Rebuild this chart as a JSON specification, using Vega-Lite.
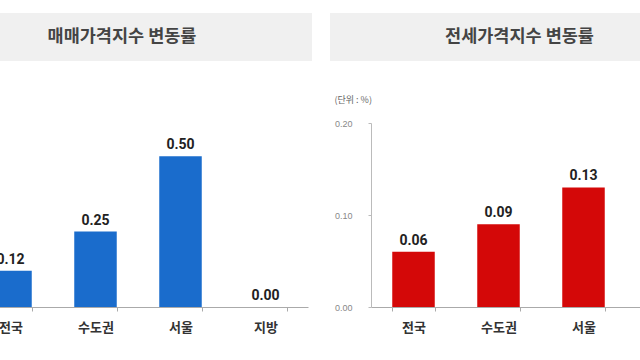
{
  "$schema": "https://vega.github.io/schema/vega-lite/v6.json",
  "background": "white",
  "padding": {"left": -32, "top": 13, "right": 0, "bottom": 0},
  "spacing": 35,
  "datasets": {
    "sale": [
      {"region": "전국", "value": 0.12},
      {"region": "수도권", "value": 0.25},
      {"region": "서울", "value": 0.50},
      {"region": "지방", "value": 0.00}
    ],
    "jeonse": [
      {"region": "전국", "value": 0.06},
      {"region": "수도권", "value": 0.09},
      {"region": "서울", "value": 0.13}
    ],
    "headers": [
      {"panel": "sale", "t": "매매가격지수 변동률"},
      {"panel": "jeonse", "t": "전세가격지수 변동률"}
    ]
  },
  "config": {
    "view": {"stroke": null},
    "font": "Noto Sans CJK KR"
  },
  "vconcat": [
    {
      "spacing": 18,
      "hconcat": [
        {
          "width": 344,
          "height": 48,
          "view": {"fill": "#f0f0f0", "stroke": null},
          "data": {"name": "headers"},
          "transform": [{"filter": "datum.panel === 'sale'"}],
          "mark": {"type": "text", "font": "Noto Sans CJK KR", "fontSize": 17.5, "fontWeight": "bold", "color": "#444444", "align": "center", "baseline": "middle", "dx": -18},
          "encoding": {"text": {"field": "t", "type": "nominal"}}
        },
        {
          "width": 385,
          "height": 48,
          "view": {"fill": "#f0f0f0", "stroke": null},
          "data": {"name": "headers"},
          "transform": [{"filter": "datum.panel === 'jeonse'"}],
          "mark": {"type": "text", "font": "Noto Sans CJK KR", "fontSize": 17.5, "fontWeight": "bold", "color": "#444444", "align": "center", "baseline": "middle", "dx": -3},
          "encoding": {"text": {"field": "t", "type": "nominal"}}
        }
      ]
    },
    {
      "spacing": 26,
      "hconcat": [
        {
          "width": 340,
          "height": 184,
          "data": {"name": "sale"},
          "encoding": {
            "x": {
              "field": "region", "type": "nominal",
              "sort": ["전국", "수도권", "서울", "지방"],
              "scale": {"domain": ["전국", "수도권", "서울", "지방"], "paddingInner": 0.5, "paddingOuter": 0.25},
              "axis": {"title": null, "labelAngle": 0, "tickBand": "extent", "domainColor": "#aaaaaa", "tickColor": "#aaaaaa", "tickSize": 4, "labelFont": "Noto Sans CJK KR", "labelFontSize": 13, "labelFontWeight": "bold", "labelColor": "#333333", "labelPadding": 10}
            },
            "y": {
              "field": "value", "type": "quantitative",
              "scale": {"domain": [0, 0.61], "nice": false},
              "axis": null
            }
          },
          "layer": [
            {"mark": {"type": "bar", "color": "#1a6ccc"}},
            {"mark": {"type": "text", "baseline": "alphabetic", "dy": -7, "font": "Roboto", "fontSize": 14, "fontWeight": "bold", "color": "#222222"},
             "encoding": {"text": {"field": "value", "type": "quantitative", "format": ".2f"}}}
          ]
        },
        {
          "width": 340,
          "height": 184,
          "title": {"text": "(단위 : %)", "anchor": "start", "frame": "bounds", "fontSize": 9, "fontWeight": "normal", "color": "#666666", "offset": 14, "font": "Noto Sans CJK KR"},
          "data": {"name": "jeonse"},
          "encoding": {
            "x": {
              "field": "region", "type": "nominal",
              "sort": ["전국", "수도권", "서울", "지방"],
              "scale": {"domain": ["전국", "수도권", "서울", "지방"], "paddingInner": 0.5, "paddingOuter": 0.25},
              "axis": {"title": null, "labelAngle": 0, "tickBand": "extent", "domainColor": "#aaaaaa", "tickColor": "#aaaaaa", "tickSize": 4, "labelFont": "Noto Sans CJK KR", "labelFontSize": 13, "labelFontWeight": "bold", "labelColor": "#333333", "labelPadding": 10}
            },
            "y": {
              "field": "value", "type": "quantitative",
              "scale": {"domain": [0, 0.2]},
              "axis": {"title": null, "values": [0, 0.1, 0.2], "format": ".2f", "grid": false, "domainColor": "#bbbbbb", "tickColor": "#bbbbbb", "tickSize": 3, "labelColor": "#888888", "labelFont": "Liberation Sans", "labelFontSize": 9, "labelPadding": 16}
            }
          },
          "layer": [
            {"mark": {"type": "bar", "color": "#d40808"}},
            {"mark": {"type": "text", "baseline": "alphabetic", "dy": -7, "font": "Roboto", "fontSize": 14, "fontWeight": "bold", "color": "#222222"},
             "encoding": {"text": {"field": "value", "type": "quantitative", "format": ".2f"}}}
          ]
        }
      ]
    }
  ]
}
